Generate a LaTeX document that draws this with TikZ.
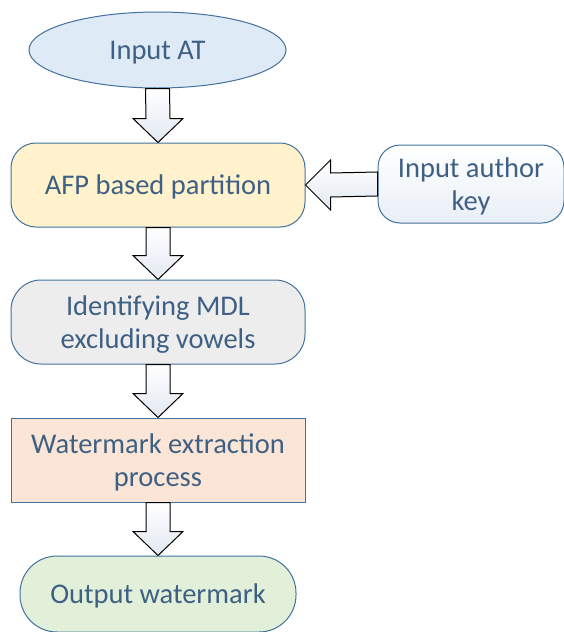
\documentclass[tikz,border=0pt]{standalone}
\usepackage{fontspec}
\setmainfont{Carlito}
\usetikzlibrary{shapes.geometric,calc}
\definecolor{txt}{RGB}{62,96,132}
\definecolor{bord}{RGB}{65,113,156}
\definecolor{fellipse}{RGB}{222,234,246}
\definecolor{fafp}{RGB}{255,242,204}
\definecolor{fmdl}{RGB}{237,237,237}
\definecolor{fwm}{RGB}{251,229,214}
\definecolor{fout}{RGB}{226,240,217}
\definecolor{fkey}{RGB}{233,239,247}
\definecolor{farrow}{RGB}{226,232,242}
\tikzset{
  box/.style={draw=bord, line width=1pt, text=txt, align=center, inner sep=0pt,
    minimum width=294pt, minimum height=84pt, text depth=0pt,
    font=\fontsize{28.5}{33}\selectfont},
  blockarrow/.style={draw=black, line width=1pt, line join=miter,
    left color=white, right color=farrow, shading angle=0},
}
\begin{document}
\begin{tikzpicture}[x=1pt,y=-1pt]
\useasboundingbox (0,0) rectangle (563,632);
\node[box, ellipse, fill=fellipse, minimum width=257pt, minimum height=76pt] (at) at (157.5,50) {Input AT};
\node[box, rounded corners=25pt, fill=fafp] (afp) at (158,185) {AFP based partition};
\node[box, rounded corners=22pt, minimum width=186pt, minimum height=78pt,
      top color=white, bottom color=fkey] (key) at (471,184) {Input author\\key};
\node[box, rounded corners=30pt, fill=fmdl] (mdl) at (158,322) {Identifying MDL\\excluding vowels};
\node[box, fill=fwm] (wm) at (158,460) {Watermark extraction\\process};
\node[box, rounded corners=37pt, minimum width=276pt, minimum height=76pt, fill=fout] (out) at (158,594) {Output watermark};
% vertical block arrows
\foreach \a/\b in {at/afp, afp/mdl, mdl/wm, wm/out}{
  \draw[blockarrow] ($(\a.south)+(-12,0)$) -- ($(\b.north)+(-12,-24)$) -- ($(\b.north)+(-25,-24)$)
    -- (\b.north) -- ($(\b.north)+(25,-24)$) -- ($(\b.north)+(12,-24)$) -- ($(\a.south)+(12,0)$) -- cycle;
}
% horizontal block arrow
\draw[blockarrow] ($(key.west)+(0,-12)$) -- ($(afp.east)+(25,-12)$) -- ($(afp.east)+(25,-25)$)
  -- (afp.east) -- ($(afp.east)+(25,25)$) -- ($(afp.east)+(25,12)$) -- ($(key.west)+(0,12)$) -- cycle;
\end{tikzpicture}
\end{document}
